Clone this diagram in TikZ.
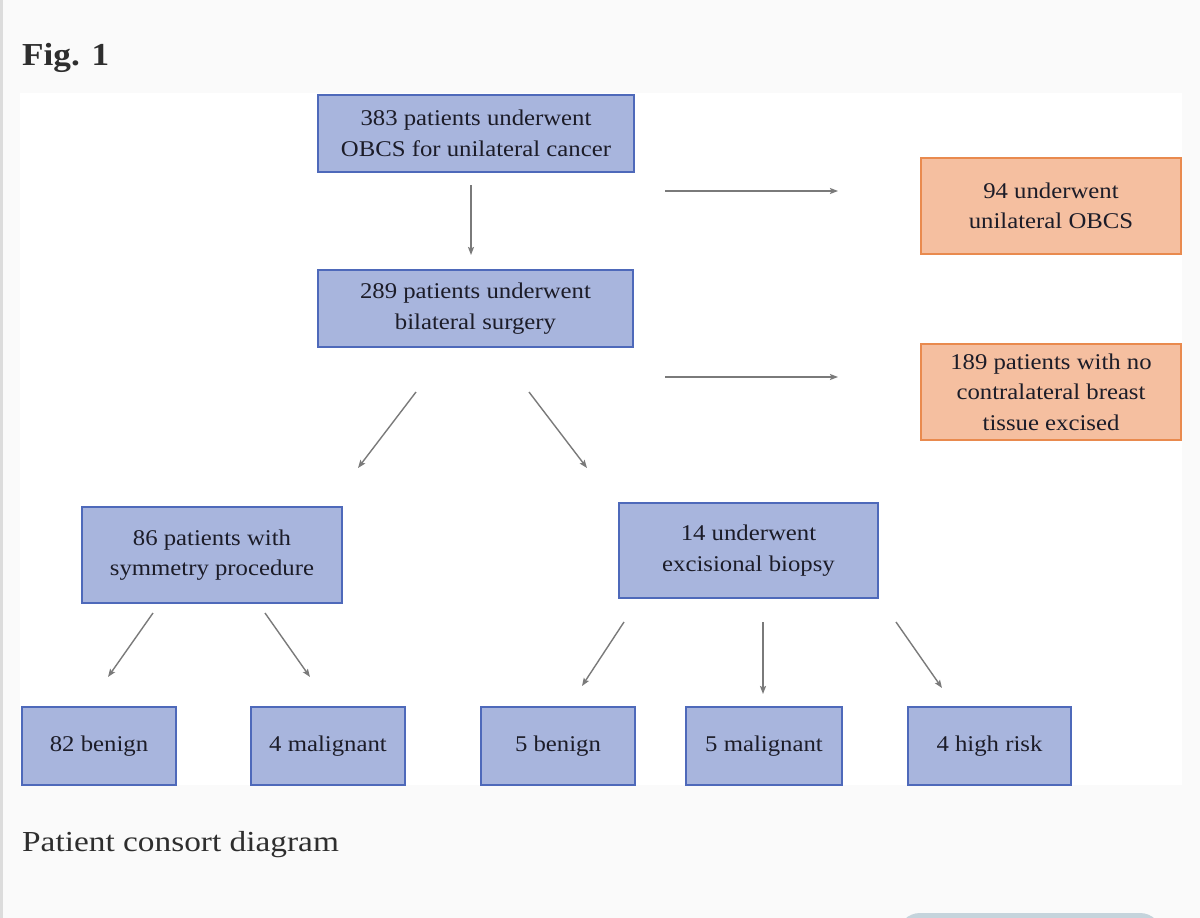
\documentclass[tikz,border=0pt]{standalone}
\usepackage{fontspec}
\setmainfont{Liberation Serif}
\newfontfamily\boxfont[FakeStretch=1.1]{Liberation Serif}
\newfontfamily\capfont[FakeStretch=1.15]{Liberation Serif}
\newfontfamily\figfont[FakeStretch=1.1]{Liberation Serif}
\usetikzlibrary{arrows.meta}
\definecolor{pagebg}{HTML}{FAFAFA}
\definecolor{edgegray}{HTML}{DCDCDC}
\definecolor{btnfill}{HTML}{C5D4DC}
\definecolor{bluefill}{HTML}{A8B5DD}
\definecolor{blueline}{HTML}{4E69BA}
\definecolor{orangefill}{HTML}{F5BFA0}
\definecolor{orangeline}{HTML}{E98A4E}
\definecolor{boxtext}{HTML}{1C1C28}
\definecolor{arrgray}{HTML}{7A7A7A}
\definecolor{captext}{HTML}{2E2E2E}
\begin{document}
\begin{tikzpicture}[x=1pt,y=-1pt,
  box/.style={draw, line width=2.5pt, inner sep=0pt, outer sep=0pt, align=center,
    font=\boxfont\fontsize{22.5}{30.5}\selectfont, text=boxtext},
  bluebox/.style={box, draw=blueline, fill=bluefill},
  orangebox/.style={box, draw=orangeline, fill=orangefill},
  arr/.style={draw=arrgray, line width=1.4pt, -{Stealth[length=8pt,width=6pt,inset=1.5pt]}}]
\useasboundingbox (0,0) rectangle (1200,918);
\clip (0,0) rectangle (1200,918);
% page
\fill[pagebg] (0,0) rectangle (1200,918);
\fill[edgegray] (0,0) rectangle (3,918);
\fill[white] (20,93) rectangle (1182,785);
\fill[btnfill, rounded corners=22pt] (898,913) rectangle (1162,970);
% title and caption
\node[anchor=base west, inner sep=0pt, text=captext,
  font=\figfont\bfseries\fontsize{32}{38}\selectfont] (title) at (22,65) {Fig. 1};
\node[anchor=base west, inner sep=0pt, text=captext,
  font=\capfont\fontsize{29}{34}\selectfont] (caption) at (22,851) {Patient consort diagram};
% boxes
\node[bluebox, minimum width=316pt, minimum height=77pt] (A) at (476,133.5)
  {383 patients underwent\\OBCS for unilateral cancer};
\node[bluebox, minimum width=315pt, minimum height=77pt] (B) at (475.5,308.5)
  {289 patients underwent\\bilateral surgery};
\node[orangebox, minimum width=260pt, minimum height=96pt] (U) at (1051,206)
  {94 underwent\\unilateral OBCS};
\node[orangebox, minimum width=260pt, minimum height=96pt] (N) at (1051,392)
  {189 patients with no\\contralateral breast\\tissue excised};
\node[bluebox, minimum width=260pt, minimum height=96pt] (S) at (212,555)
  {86 patients with\\symmetry procedure};
\node[bluebox, minimum width=259pt, minimum height=95pt] (E) at (748.5,550.5)
  {14 underwent\\excisional biopsy};
\node[bluebox, minimum width=154pt, minimum height=78pt] (SB) at (99,746) {82 benign};
\node[bluebox, minimum width=154pt, minimum height=78pt] (SM) at (328,746) {4 malignant};
\node[bluebox, minimum width=154pt, minimum height=78pt] (EB) at (558,746) {5 benign};
\node[bluebox, minimum width=156pt, minimum height=78pt] (EM) at (764,746) {5 malignant};
\node[bluebox, minimum width=163pt, minimum height=78pt] (EH) at (989.5,746) {4 high risk};
% connectors
\draw[arr] ([xshift=-5pt,yshift=-13pt]A.south) -- ([xshift=-4.5pt,yshift=15pt]B.north);
\draw[arr] ([xshift=31pt,yshift=-19pt]A.south east) -- ([xshift=-83pt,yshift=15pt]U.west);
\draw[arr] ([xshift=32pt,yshift=-30pt]B.south east) -- ([xshift=-83pt,yshift=15pt]N.west);
\draw[arr] ([xshift=-59.5pt,yshift=-45pt]B.south) -- ([xshift=146pt,yshift=39pt]S.north);
\draw[arr] ([xshift=53.5pt,yshift=-45pt]B.south) -- ([xshift=-161.5pt,yshift=35pt]E.north);
\draw[arr] ([xshift=-59pt,yshift=-10pt]S.south) -- ([xshift=9pt,yshift=30pt]SB.north);
\draw[arr] ([xshift=53pt,yshift=-10pt]S.south) -- ([xshift=-18pt,yshift=30pt]SM.north);
\draw[arr] ([xshift=-124.5pt,yshift=-24pt]E.south) -- ([xshift=24pt,yshift=21pt]EB.north);
\draw[arr] ([xshift=14.5pt,yshift=-24pt]E.south) -- ([xshift=-1pt,yshift=13pt]EM.north);
\draw[arr] ([xshift=147.5pt,yshift=-24pt]E.south) -- ([xshift=-47.5pt,yshift=19pt]EH.north);
\end{tikzpicture}
\end{document}
